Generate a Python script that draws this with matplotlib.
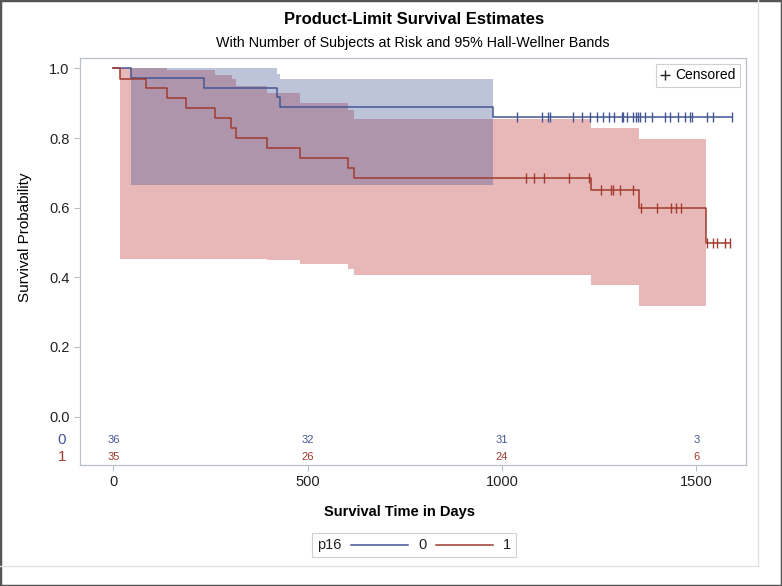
import matplotlib
matplotlib.use('Agg')
import matplotlib.pyplot as plt
from matplotlib.lines import Line2D
from matplotlib.patches import Rectangle
from matplotlib.offsetbox import AnchoredOffsetbox, HPacker, TextArea, DrawingArea
import numpy as np

plt.rcParams['font.family'] = ['Liberation Sans', 'DejaVu Sans']

# p16 = 0 : product-limit steps, censored times, Hall-Wellner band
t0 = [0, 44, 234, 422, 428, 977]
s0 = [1.0, 0.972, 0.944, 0.917, 0.889, 0.861]
end0 = 1591
cens0 = [1038, 1102, 1119, 1124, 1182, 1205, 1227, 1244, 1260, 1276, 1288,
         1308, 1312, 1321, 1338, 1344, 1349, 1355, 1368, 1385, 1420, 1433,
         1454, 1471, 1484, 1490, 1527, 1544, 1591]
band0_t = [44, 422, 428, 977]
band0_hi = [1.0, 0.985, 0.970, 0.970]
band0_lo = [0.665, 0.665, 0.665, 0.665]

# p16 = 1
t1 = [0, 18, 83, 137, 186, 261, 303, 315, 394, 480, 605, 620, 1228, 1353, 1526]
s1 = [1.0, 0.971, 0.943, 0.914, 0.886, 0.857, 0.829, 0.800, 0.771, 0.743,
      0.714, 0.686, 0.650, 0.600, 0.500]
end1 = 1587
cens1 = [1063, 1083, 1107, 1173, 1224, 1256, 1281, 1287, 1304, 1338, 1357,
         1398, 1434, 1447, 1462, 1528, 1544, 1553, 1574, 1587]
band1_t = [18, 137, 261, 304, 315, 394, 480, 605, 620, 1228, 1353, 1525]
band1_hi = [1.0, 0.995, 0.982, 0.970, 0.950, 0.930, 0.900, 0.881, 0.856,
            0.830, 0.797, 0.797]
band1_lo = [0.453, 0.453, 0.453, 0.453, 0.453, 0.450, 0.439, 0.423, 0.406,
            0.378, 0.318, 0.318]

# number at risk
risk_t = [0, 500, 1000, 1500]
risk0 = [36, 32, 31, 3]
risk1 = [35, 26, 24, 6]

blue = '#445694'
red = '#a23a2e'
grey = '#b9c0c8'


def surv_at(times, surv, x):
    idx = np.searchsorted(times, x, side='right') - 1
    return np.array(surv)[idx]


fig = plt.figure(figsize=(7.82, 5.86), dpi=100)
ax = fig.add_axes([80 / 782, 1 - 465 / 586, 666 / 782, 407 / 586])

ax.fill_between(band1_t, band1_lo, band1_hi, step='post', color='#d98a8a',
                alpha=0.6, linewidth=0)
ax.fill_between(band0_t, band0_lo, band0_hi, step='post', color=blue,
                alpha=0.35, linewidth=0)

ax.plot(t0 + [end0], s0 + [s0[-1]], drawstyle='steps-post', color=blue, lw=1.1)
ax.plot(t1 + [end1], s1 + [s1[-1]], drawstyle='steps-post', color=red, lw=1.1)
ax.plot(cens0, surv_at(t0, s0, cens0), linestyle='none', marker='|',
        color=blue, ms=7, mew=1.0)
ax.plot(cens1, surv_at(t1, s1, cens1), linestyle='none', marker='|',
        color=red, ms=7, mew=1.0)

# at-risk table inside the plot area
for x, n0, n1 in zip(risk_t, risk0, risk1):
    ax.text(x, -0.0675, str(n0), color=blue, fontsize=8, ha='center', va='center')
    ax.text(x, -0.116, str(n1), color=red, fontsize=8, ha='center', va='center')
ax.text(-0.027, -0.0675, '0', color=blue, fontsize=11, ha='center', va='center',
        transform=ax.get_yaxis_transform())
ax.text(-0.027, -0.116, '1', color=red, fontsize=11, ha='center', va='center',
        transform=ax.get_yaxis_transform())

ax.set_xlim(-86, 1628)
ax.set_ylim(-0.139, 1.030)
ax.set_xticks([0, 500, 1000, 1500])
ax.set_yticks([0.0, 0.2, 0.4, 0.6, 0.8, 1.0])
ax.set_yticklabels(['0.0', '0.2', '0.4', '0.6', '0.8', '1.0'])
ax.tick_params(colors=grey, labelcolor='#222222', labelsize=10.5, length=4, width=0.8)
for sp in ax.spines.values():
    sp.set_color(grey)
    sp.set_linewidth(0.9)

ax.set_ylabel('Survival Probability', fontsize=11)
ax.yaxis.set_label_coords(-0.072, 0.56)
ax.set_xlabel('Survival Time in Days', fontsize=10.5, fontweight='bold')
ax.xaxis.set_label_coords(0.479, -0.098)

cens_handle = Line2D([], [], linestyle='none', marker='+', color='#222222', ms=7)
leg = ax.legend([cens_handle], ['Censored'], loc='upper right', fontsize=10,
                handlelength=0.6, handletextpad=0.4, borderpad=0.35,
                fancybox=False, framealpha=1, borderaxespad=0.4)
leg.get_frame().set_edgecolor('#d0d0d0')
leg.get_frame().set_linewidth(0.8)

fig.text(0.53, 1 - 20 / 586, 'Product-Limit Survival Estimates', ha='center',
         va='center', fontsize=12, fontweight='bold')
fig.text(0.528, 1 - 43 / 586,
         'With Number of Subjects at Risk and 95% Hall-Wellner Bands',
         ha='center', va='center', fontsize=10.3)

# group legend at the bottom (sizes in points)
items = [TextArea('p16', textprops=dict(fontsize=10.5, color='#222222'))]
for col, lab in [(blue, '0'), (red, '1')]:
    da = DrawingArea(41, 8, 0, 0)
    da.add_artist(Line2D([0, 41], [4, 4], color=col, lw=1.1))
    items.append(da)
    items.append(TextArea(lab, textprops=dict(fontsize=10.5, color='#222222')))
pack = HPacker(children=items, align='center', pad=0, sep=7)
box = AnchoredOffsetbox(loc='center', child=pack, pad=0.35, borderpad=0,
                        frameon=True, bbox_to_anchor=(414 / 782, 1 - 545 / 586),
                        bbox_transform=fig.transFigure)
box.patch.set_edgecolor('#d0d0d0')
box.patch.set_linewidth(0.8)
fig.add_artist(box)

# page frame
fig.add_artist(Line2D([0, 758 / 782], [1 - 566 / 586] * 2, color='#e2e2e2', lw=1,
                      transform=fig.transFigure))
fig.add_artist(Line2D([758 / 782] * 2, [1 - 566 / 586, 1], color='#e2e2e2', lw=1,
                      transform=fig.transFigure))
fig.add_artist(Rectangle((0, 0), 1, 1, transform=fig.transFigure, fill=False,
                         edgecolor='#555555', lw=2.5))

fig.savefig('out.png', dpi=100)
